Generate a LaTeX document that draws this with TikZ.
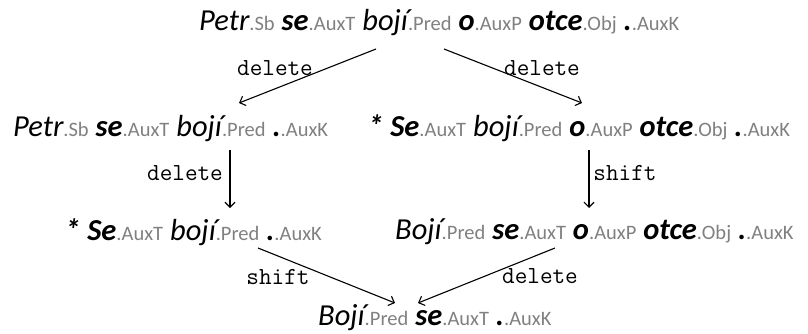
\documentclass[tikz,border=0pt]{standalone}
\usepackage{fontspec}
\setmainfont{Carlito}
\usepackage{xcolor}
\usetikzlibrary{arrows.meta}
\definecolor{taggray}{RGB}{128,128,128}
\tikzset{%
  tipA/.tip={Straight Barb[length=5pt,width=10pt]},
  row/.style={anchor=base west, inner sep=0pt, font=\fontsize{30.5}{30}\selectfont},
  oplabel/.style={inner sep=0pt, font=\ttfamily\fontsize{24.5}{24}\selectfont},
  arr/.style={line width=1.1pt, -tipA}
}
% word with its function tag
\newcommand{\tagsize}{\fontsize{20.5}{20}\selectfont}
\newcommand{\tw}[2]{{\itshape #1}{\tagsize\color{taggray}.#2}}
\newcommand{\tb}[2]{{\bfseries\itshape #1}{\tagsize\mdseries\upshape\color{taggray}.#2}}

\begin{document}
\begin{tikzpicture}[x=1pt,y=-1pt]
\useasboundingbox (0,0) rectangle (808,333);
\node[row] (top) at (199,30) {\tw{Petr}{Sb} \tb{se}{AuxT} \tw{bojí}{Pred} \tb{o}{AuxP} \tb{otce}{Obj} \tb{.}{AuxK}};
\node[row] (l2) at (13,136) {\tw{Petr}{Sb} \tb{se}{AuxT} \tw{bojí}{Pred} \tb{.}{AuxK}};
\node[row] (r2) at (368,136) {\textbf{\textit{* Se}}{\tagsize\color{taggray}.AuxT} \tw{bojí}{Pred} \tb{o}{AuxP} \tb{otce}{Obj} \tb{.}{AuxK}};
\node[row] (l3) at (65,240) {\textbf{\textit{* Se}}{\tagsize\color{taggray}.AuxT} \tw{bojí}{Pred} \tb{.}{AuxK}};
\node[row] (r3) at (395,239) {\tw{Bojí}{Pred} \tb{se}{AuxT} \tb{o}{AuxP} \tb{otce}{Obj} \tb{.}{AuxK}};
\node[row] (bot) at (318,325) {\tw{Bojí}{Pred} \tb{se}{AuxT} \tb{.}{AuxK}};
%% edges
\draw[arr] ([shift={(177,19)}]top.base west) -- ([shift={(226,-33)}]l2.base west);
\draw[arr] ([shift={(245,19)}]top.base west) -- ([shift={(214,-33)}]r2.base west);
\draw[arr] ([shift={(217,14)}]l2.base west) -- ([shift={(165,-32)}]l3.base west);
\draw[arr] ([shift={(221,14)}]r2.base west) -- ([shift={(194,-31)}]r3.base west);
\draw[arr] ([shift={(193,8)}]l3.base west) -- ([shift={(77,-22)}]bot.base west);
\draw[arr] ([shift={(160,9)}]r3.base west) -- ([shift={(100,-22)}]bot.base west);
%% edge labels
\node[oplabel] (delA) at (275,68) {delete};
\node[oplabel] (delB) at (542,68) {delete};
\node[oplabel] (delC) at (185,173) {delete};
\node[oplabel] (shiftA) at (625,173) {shift};
\node[oplabel] (shiftB) at (278,277) {shift};
\node[oplabel] (delD) at (540,276) {delete};
\end{tikzpicture}
\end{document}
